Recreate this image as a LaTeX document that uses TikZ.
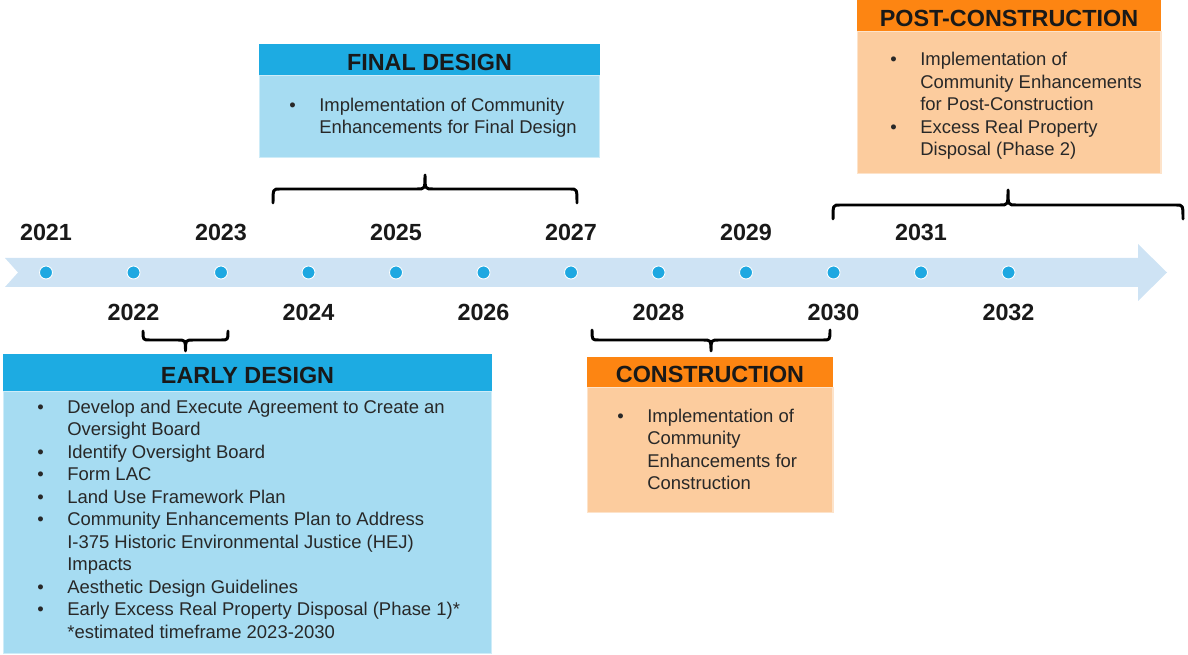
\documentclass[tikz,border=0pt]{standalone}
\usepackage{fontspec}
\setmainfont{Liberation Sans}
\usepackage{tikz}
\usetikzlibrary{positioning}

\definecolor{bandblue}{RGB}{206,227,244}
\definecolor{dotblue}{RGB}{30,168,225}
\definecolor{headblue}{RGB}{29,171,226}
\definecolor{bodyblue}{RGB}{166,220,242}
\definecolor{headorange}{RGB}{253,133,18}
\definecolor{bodyorange}{RGB}{252,204,158}
\definecolor{ink}{RGB}{40,40,40}

% bullet column + text column, lines broken by hand
\newenvironment{phaselist}{\begin{tabular}[t]{@{}p{0.6cm}@{}l@{}}}{\end{tabular}}

\begin{document}
\begin{tikzpicture}[x=0.02cm, y=0.02cm]
\tikzstyle{every node}+=[inner sep=0pt]
\tikzstyle{yeardot}=[circle, fill=dotblue, draw=white, line width=0.5pt, minimum size=0.26cm]
\tikzstyle{yearlabel}=[font=\fontsize{13.3}{16}\selectfont\bfseries, text=black!90]
\tikzstyle{phasehead}=[font=\fontsize{13.3}{16}\selectfont\bfseries, text=black!90, text height=12pt, text depth=0pt]
\tikzstyle{bluehead}=[phasehead, fill=headblue]
\tikzstyle{orangehead}=[phasehead, fill=headorange]
\tikzstyle{bluebody}=[fill=bodyblue, draw=bodyblue!55!white, line width=0.6pt]
\tikzstyle{orangebody}=[fill=bodyorange, draw=bodyorange!55!white, line width=0.6pt]
\tikzstyle{itemtext}=[anchor=base west, text=ink, font=\fontsize{10.5}{12.8}\selectfont]
\tikzstyle{bracket}=[line width=1.7pt, line cap=round, line join=round]

\useasboundingbox (0,0) rectangle (1188,-655);

% timeline band with notched tail and arrow head
\fill[bandblue] (5,-258) -- (1138,-258) -- (1138,-244) -- (1167,-272.5) -- (1138,-301)
  -- (1138,-287) -- (5,-287) -- (18,-272.5) -- cycle;

\foreach \i in {0,...,11}
  \node[yeardot] (d\i) at (46+87.5*\i,-272.5) {};

% years, alternating above and below
\foreach \i/\yr in {0/2021,2/2023,4/2025,6/2027,8/2029,10/2031}
  \node[yearlabel] (y\yr) at (46+87.5*\i,-232) {\yr};
\foreach \i/\yr in {1/2022,3/2024,5/2026,7/2028,9/2030,11/2032}
  \node[yearlabel] (y\yr) at (46+87.5*\i,-312) {\yr};

% curly brackets: left x / right x / end y / bar y / tip y
\foreach \xa/\xb/\yb/\ym/\yt in {273/577/-203/-189/-175, 833/1183/-219/-205/-190,
    143/228/-331/-340/-351, 592/830/-330/-340/-351}
  \draw[bracket] (\xa,\yb) .. controls (\xa,\ym) .. (\xa+7,\ym)
    -- ({(\xa+\xb)/2-8},\ym) .. controls ({(\xa+\xb)/2},\ym) .. ({(\xa+\xb)/2},\yt)
    .. controls ({(\xa+\xb)/2},\ym) .. ({(\xa+\xb)/2+8},\ym)
    -- (\xb-7,\ym) .. controls (\xb,\ym) .. (\xb,\yb);

% final design
\node[bluehead, minimum width=6.82cm, minimum height=0.62cm] (finalhead) at (429.5,-59.5) {FINAL DESIGN};
\node[bluebody, minimum width=6.82cm, minimum height=1.64cm, below=0pt of finalhead] (finalbody) {};
\node[itemtext] (finaltext) at (289,-111.5) {\begin{phaselist}
  \textbullet & Implementation of Community\\
  & Enhancements for Final Design
\end{phaselist}};

% post-construction
\node[orangehead, minimum width=6.08cm, minimum height=0.62cm] (posthead) at (1009,-15.5) {POST-CONSTRUCTION};
\node[orangebody, minimum width=6.08cm, minimum height=2.84cm, below=0pt of posthead] (postbody) {};
\node[itemtext] (posttext) at (890,-66) {\begin{phaselist}
  \textbullet & Implementation of\\
  & Community Enhancements\\
  & for Post-Construction\\
  \textbullet & Excess Real Property\\
  & Disposal (Phase 2)
\end{phaselist}};

% early design
\node[bluehead, minimum width=9.78cm, minimum height=0.74cm] (earlyhead) at (247.5,-372.5) {EARLY DESIGN};
\node[bluebody, minimum width=9.78cm, minimum height=5.24cm, below=0pt of earlyhead] (earlybody) {};
\node[itemtext] (earlytext) at (37,-413.5) {\begin{phaselist}
  \textbullet & Develop and Execute Agreement to Create an\\
  & Oversight Board\\
  \textbullet & Identify Oversight Board\\
  \textbullet & Form LAC\\
  \textbullet & Land Use Framework Plan\\
  \textbullet & Community Enhancements Plan to Address\\
  & I-375 Historic Environmental Justice (HEJ)\\
  & Impacts\\
  \textbullet & Aesthetic Design Guidelines\\
  \textbullet & Early Excess Real Property Disposal (Phase 1)*\\
  & *estimated timeframe 2023-2030
\end{phaselist}};

% construction
\node[orangehead, minimum width=4.92cm, minimum height=0.6cm] (conshead) at (710,-372) {CONSTRUCTION};
\node[orangebody, minimum width=4.92cm, minimum height=2.5cm, below=0pt of conshead] (consbody) {};
\node[itemtext] (constext) at (617,-422.5) {\begin{phaselist}
  \textbullet & Implementation of\\
  & Community\\
  & Enhancements for\\
  & Construction
\end{phaselist}};
\end{tikzpicture}
\end{document}
